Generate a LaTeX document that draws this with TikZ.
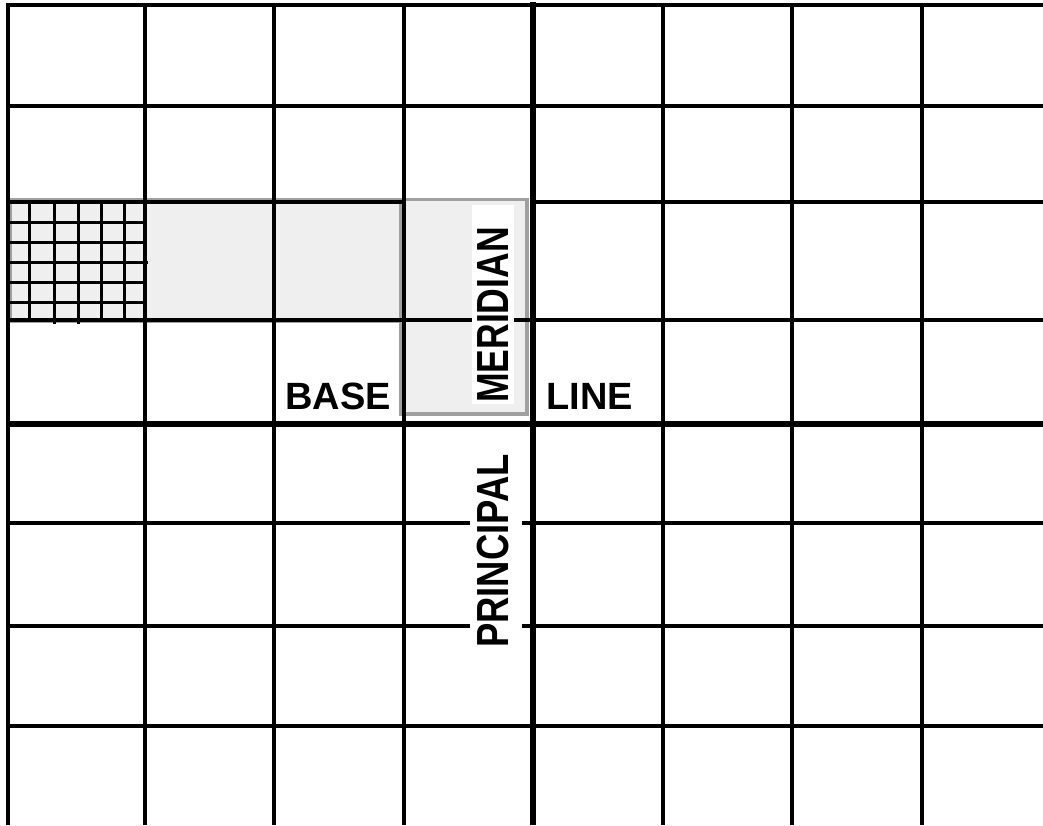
\documentclass[tikz,border=0pt]{standalone}
\usepackage{fontspec}
\setmainfont{Liberation Sans}
\definecolor{shade}{HTML}{EFEFEF}
\definecolor{rim}{HTML}{A0A0A0}
\tikzset{
  hl/.style={fill=shade, draw=rim, line width=3.5pt},
  grid/.style={black, line width=3.6pt},
  major/.style={black, line width=6.5pt},
  fine/.style={black, line width=3pt},
  lab/.style={inner sep=0pt, font=\fontsize{38}{38}\selectfont\bfseries},
  vlab/.style={inner sep=0pt, rotate=90, font=\fontsize{45}{45}\selectfont\bfseries}
}
\begin{document}
\begin{tikzpicture}[x=1pt,y=-1pt]
\useasboundingbox (0,0) rectangle (1043,825);
% shaded band and meridian cell
\draw[hl] (10.5,199.5) rectangle (402,321.5);
\draw[hl] (401,199.5) rectangle (527,414);
\fill[white] (472,205) rectangle (514,404);
% fine grid in first cell
\foreach \x in {29,101,124} \draw[fine] (\x,202) -- (\x,321);
\foreach \x in {54,78} \draw[fine] (\x,202) -- (\x,324);
\foreach \y in {222,242,282,302} \draw[fine] (8,\y) -- (145,\y);
\draw[fine] (8,262) -- (148,262);
% horizontal grid lines
\foreach \y in {5,106,726} \draw[grid] (6.5,\y) -- (1043,\y);
\draw[grid] (6.5,202) -- (404,202);
\draw[grid] (533,202) -- (1043,202);
\draw[grid] (6.5,320) -- (472,320);
\draw[grid] (514,320) -- (1043,320);
\foreach \y in {523,626} {
  \draw[grid] (6.5,\y) -- (470,\y);
  \draw[grid] (522,\y) -- (1043,\y);
}
\draw[major] (6.5,424) -- (1043,424);
% vertical grid lines
\foreach \x in {8,145,274,404,663,792,922} \draw[grid] (\x,3.2) -- (\x,825);
\draw[major] (533,2) -- (533,825);
% labels
\node[lab] (base) at (338,396) {BASE};
\node[lab] (line) at (589.5,396) {LINE};
\node[vlab] (meridian) at (493,315) {\scalebox{0.79}[1]{MERIDIAN}};
\node[vlab] (principal) at (493,551) {\scalebox{0.81}[1]{PRINCIPAL}};
\end{tikzpicture}
\end{document}
